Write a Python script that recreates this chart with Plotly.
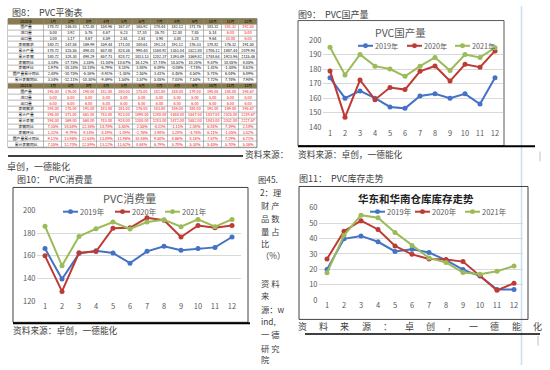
import plotly.graph_objects as go

W, H = 550, 370
def X(p): return p / W
def Y(p): return 1 - p / H

FONT = "Noto Sans CJK SC"
C19, C20, C21 = "#4472C4", "#BE3A34", "#9BBB59"

# ---------------- data ----------------
months = list(range(1, 13))
series_names = ["2019年", "2020年", "2021年"]

prod_2019 = [174, 160, 165, 160, 154, 153, 161.5, 163, 160, 163, 156, 174]
prod_2020 = [178.72, 146.83, 172.48, 158.96, 167.37, 165.92, 178.44, 182.12, 171.76, 183.32, 181.32, 192.50]
prod_2021 = [195, 176, 190, 182, 180, 175, 182, 188, 179, 190, 188, 194.67]

cons_2019 = [166.5, 139.5, 162, 164.5, 162.5, 153.5, 164, 168.5, 165, 166.5, 167.5, 176.7]
cons_2020 = [160, 128.5, 162.7, 163.8, 184.5, 184.8, 193.7, 191.5, 176.7, 186.9, 185, 187]
cons_2021 = [186.3, 151.3, 177.2, 184, 190, 183.8, 190, 192, 185.8, 192.3, 185.8, 192.3]

inv_2019 = [19.8, 39.8, 41.7, 37.9, 31.6, 33, 30.9, 25.9, 19.8, 15.6, 6.8, 6.8]
inv_2020 = [26.7, 44.8, 51.6, 45.9, 35.2, 29.7, 26.7, 26.3, 25, 15.8, 6.3, 10.9]
inv_2021 = [17.7, 42.1, 55.2, 53.5, 44, 35.4, 27.4, 24.4, 17.9, 16.8, 18.7, 22.1]

row_labels = ["国产量", "进口量", "出口量", "表观需求", "累计产量", "累计表需",
              "表需同比", "表需环比", "国产量累计同比", "累计表需同比"]
month_headers = [f"{m}月" for m in months]

t2020 = [
    ["178.72", "146.83", "172.48", "158.96", "167.37", "165.92", "178.44", "182.12", "171.76", "183.32", "181.32", "192.50"],
    ["5.00", "3.92", "5.76", "4.67", "6.23", "17.30", "16.70", "12.00", "7.85", "5.14", "6.00", "5.00"],
    ["3.00", "3.17", "8.67", "4.59", "2.61", "2.61", "3.90", "3.00", "3.28", "9.64", "10.00", "6.00"],
    ["180.72", "147.58", "169.99", "159.44", "171.00", "180.61", "191.24", "191.12", "176.33", "178.82", "176.32", "191.50"],
    ["178.72", "325.55", "498.03", "657.00", "824.36", "990.40", "1168.92", "1351.04", "1522.80", "1706.12", "1887.44", "2079.94"],
    ["180.72", "328.30", "498.29", "657.73", "828.72", "1013.13", "1202.37", "1393.49", "1569.82", "1748.64", "1923.96", "2115.46"],
    ["3.34%", "-17.75%", "3.35%", "-11.04%", "10.67%", "16.12%", "17.74%", "14.51%", "10.20%", "9.57%", "10.05%", "8.05%"],
    ["1.97%", "-18.34%", "15.18%", "-6.79%", "8.10%", "3.88%", "6.09%", "-0.06%", "-7.74%", "1.41%", "-1.40%", "8.61%"],
    ["2.48%", "-10.75%", "-6.16%", "-8.91%", "-1.35%", "2.55%", "3.41%", "4.45%", "4.54%", "5.71%", "6.04%", "6.89%"],
    ["3.34%", "-12.11%", "-10.30%", "-9.49%", "1.54%", "3.57%", "5.05%", "7.03%", "7.54%", "7.72%", "7.74%", "7.90%"],
]
t2021 = [
    ["195.00", "176.00", "190.00", "182.00", "180.00", "175.00", "182.00", "188.00", "179.00", "190.00", "188.00", "194.67"],
    ["5.00"] * 12,
    ["6.00"] * 12,
    ["194.00", "175.00", "191.00", "183.00", "181.00", "176.00", "183.00", "189.00", "180.00", "191.00", "189.00", "195.67"],
    ["195.00", "371.00", "561.00", "743.00", "923.00", "1098.00", "1280.00", "1468.00", "1647.00", "1837.00", "2025.00", "2219.67"],
    ["194.00", "369.00", "560.00", "743.00", "924.00", "1100.00", "1283.00", "1472.00", "1652.00", "1843.00", "2032.00", "2227.67"],
    ["7.35%", "18.58%", "12.36%", "14.78%", "5.85%", "-2.55%", "-4.31%", "-1.11%", "2.08%", "6.81%", "7.19%", "2.18%"],
    ["1.31%", "-9.79%", "9.14%", "-4.19%", "-1.09%", "-2.76%", "3.98%", "3.28%", "-4.76%", "6.11%", "-1.05%", "3.52%"],
    ["9.11%", "13.96%", "12.65%", "13.09%", "11.96%", "10.86%", "9.50%", "8.66%", "8.16%", "7.67%", "7.29%", "6.71%"],
    ["7.35%", "12.70%", "12.59%", "13.12%", "11.62%", "8.68%", "6.79%", "5.70%", "5.30%", "5.45%", "5.70%", "5.36%"],
]

fig = go.Figure()

# ---------------- table (heatmap grid + text) ----------------
HEAD = "#8A7C4A"
RED, BLK = "#FF0000", "#000000"
col_w = [36] + [17.6] * 12
edges = [0]
for w in col_w:
    edges.append(edges[-1] + w)
centers = [(edges[i] + edges[i + 1]) / 2 for i in range(len(col_w))]

grid_rows = []   # (texts, colors, is_header)
for year, rows, red in (("2020年", t2020, lambda r, c: r < 3 and c >= 10),
                        ("2021年", t2021, lambda r, c: True)):
    grid_rows.append(([year] + month_headers, [BLK] * 13, True))
    for ri, (lab, vals) in enumerate(zip(row_labels, rows)):
        cols = [BLK] + [RED if red(ri, ci) else BLK for ci in range(12)]
        grid_rows.append(([lab] + vals, cols, False))

nrows = len(grid_rows)
z = [[1 if hdr else 0] * 13 for _, _, hdr in grid_rows]
fig.add_trace(go.Heatmap(
    z=z, x=edges, y=list(range(nrows + 1)), zmin=0, zmax=1,
    colorscale=[[0, "white"], [1, HEAD]], showscale=False,
    xgap=0.6, ygap=0.6, hoverinfo="skip", xaxis="x4", yaxis="y4"))
tx, ty, tt, tc = [], [], [], []
for r, (texts, cols, hdr) in enumerate(grid_rows):
    for c, (s, col) in enumerate(zip(texts, cols)):
        tx.append(centers[c]); ty.append(r + 0.5); tt.append(s); tc.append(col)
fig.add_trace(go.Scatter(x=tx, y=ty, text=tt, mode="text",
                         textfont=dict(family=FONT, size=3.8, color=tc),
                         hoverinfo="skip", xaxis="x4", yaxis="y4", showlegend=False))

# ---------------- line charts ----------------
def add_lines(xa, ya, ys):
    for name, y, c in zip(series_names, ys, [C19, C20, C21]):
        fig.add_trace(go.Scatter(x=months, y=y, name=name, mode="lines+markers",
                                 line=dict(color=c, width=2), marker=dict(color=c, size=5),
                                 xaxis=xa, yaxis=ya, showlegend=False))

add_lines("x", "y", [prod_2019, prod_2020, prod_2021])
add_lines("x2", "y2", [cons_2019, cons_2020, cons_2021])
add_lines("x3", "y3", [inv_2019, inv_2020, inv_2021])

tickf = dict(family=FONT, size=7.5, color="#595959")
def xax(l, r, anchor):
    return dict(domain=[X(l), X(r)], range=[0.5, 12.5], tickvals=months, showgrid=False,
                zeroline=False, showline=False, ticks="", tickfont=tickf, anchor=anchor,
                fixedrange=True)
def yax(t, b, rng, dt, anchor):
    return dict(domain=[Y(b), Y(t)], range=rng, dtick=dt, showgrid=True, gridcolor="#D9D9D9",
                gridwidth=1, zeroline=False, showline=False, ticks="", tickfont=tickf,
                anchor=anchor, fixedrange=True)

fig.update_layout(
    xaxis=xax(322.5, 502.5, "y"), yaxis=yax(35, 125, [140, 200], 10, "x"),
    xaxis2=xax(36.5, 240.5, "y2"), yaxis2=yax(211, 304, [120, 200], 20, "x2"),
    xaxis3=xax(318.5, 522.5, "y3"), yaxis3=yax(208, 303, [0, 60], 10, "x3"),
    xaxis4=dict(domain=[X(8), X(257)], range=[0, edges[-1]], visible=False, anchor="y4",
                fixedrange=True),
    yaxis4=dict(domain=[Y(146), Y(13)], range=[nrows, 0], visible=False, anchor="x4",
                fixedrange=True),
)

# ---------------- decorations ----------------
shapes = []
annos = []
def line(x0, y0, x1, y1, color="#000000", w=1):
    shapes.append(dict(type="line", xref="paper", yref="paper", x0=X(x0), y0=Y(y0),
                       x1=X(x1), y1=Y(y1), line=dict(color=color, width=w)))
def rect(x0, y0, x1, y1, color="#404040", w=1, fill=None, layer="above"):
    shapes.append(dict(type="rect", xref="paper", yref="paper", x0=X(x0), y0=Y(y0),
                       x1=X(x1), y1=Y(y1), line=dict(color=color, width=w),
                       fillcolor=fill, layer=layer))
def text(x, y, s, size=9, color="#333333", anchor="left", bold=False):
    if bold:
        s = "<b>" + s + "</b>"
    annos.append(dict(xref="paper", yref="paper", x=X(x), y=Y(y), text=s, showarrow=False,
                      xanchor=anchor, yanchor="middle", font=dict(family=FONT, size=size, color=color),
                      borderpad=0))

def legend(y, starts, size=7.5):
    for x0, name, c in zip(starts, series_names, [C19, C20, C21]):
        line(x0, y, x0 + 15, y, c, 2)
        shapes.append(dict(type="circle", xref="paper", yref="paper",
                           x0=X(x0 + 5), x1=X(x0 + 10), y0=Y(y + 2.5), y1=Y(y - 2.5),
                           fillcolor=c, line=dict(color=c, width=0)))
        text(x0 + 16, y, name, size=size, color="#595959")

# table grid background (shows through heatmap gaps as cell borders)
rect(8, 13, 257, 146, "#7A7A7A", 0.8, fill="#8A8A8A", layer="below")

# vertical light blue guide
line(521.5, 0, 521.5, 370, "#C9DEF0", 1.5)
line(540, 150, 540, 160, "#B0B0B0", 0.8)
line(538, 340, 538, 350, "#B0B0B0", 0.8)

# fig 8
text(11, 7, "图8：  PVC平衡表", size=9, color="#404040")
line(8, 154.5, 243, 154.5, "#000000", 1.5)
text(244, 153, "资料来源：", size=8.7, color="#404040")
text(6, 165, "卓创，一德能化", size=9, color="#404040")

# fig 9
text(297, 9, "图9：  PVC国产量", size=9, color="#404040")
rect(298, 15, 504, 144, "#595959", 1)
line(298, 144.5, 535, 144.5, "#000000", 2)
text(400, 27, "PVC国产量", size=10.5, color="#595959", anchor="center")
legend(41, [358, 407, 455], size=7.2)
text(297, 153, "资料来源：卓创，一德能化", size=8.7, color="#404040")

# fig 10
text(16, 179, "图10：  PVC消费量", size=9, color="#404040")
rect(13, 187, 248, 326, "#404040", 1)
line(13, 327, 250, 327, "#000000", 2)
text(129, 198, "PVC消费量", size=11, color="#595959", anchor="center")
legend(212, [63, 115, 165])
text(12, 334, "资料来源：卓创，一德能化", size=8.7, color="#404040")

# fig 11
text(298, 178, "图11：  PVC库存走势", size=9, color="#404040")
rect(299, 186, 528, 323, "#404040", 1)
text(416, 198, "华东和华南仓库库存走势", size=10.5, color="#222222", anchor="center", bold=True)
legend(212, [370, 415, 465])
src_chars = list("资料来源：卓创，一德能化")
for i, ch in enumerate(src_chars):
    text(302 + i * 21.4, 330, ch, size=9, color="#404040", anchor="center")
line(305, 338, 540, 338, "#000000", 1.5)

# middle clipped column
mid = [
    (178, 257, "图45."),
    (192, 259, "2：理"),
    (205, 260, "财 产"), (218, 260, "品 数"), (232, 260, "量 占"),
    (244, 260, "比"), (257, 260, "（%）"),
    (285, 260, "资 料"), (298, 260, "来"), (312, 260, "源：w"),
    (325, 260, "ind,"), (338, 260, "一 德"), (352, 260, "研 究"), (364, 260, "院"),
]
for y, x, s in mid:
    text(x, y, s, size=8.3, color="#404040")

fig.update_layout(
    width=W, height=H, autosize=False,
    margin=dict(l=0, r=0, t=0, b=0, pad=0),
    paper_bgcolor="white", plot_bgcolor="white",
    font=dict(family=FONT),
    shapes=shapes, annotations=annos, showlegend=False,
)

fig.write_html("out.html", config={"displayModeBar": False},
               post_script="document.body.style.margin='0';")
